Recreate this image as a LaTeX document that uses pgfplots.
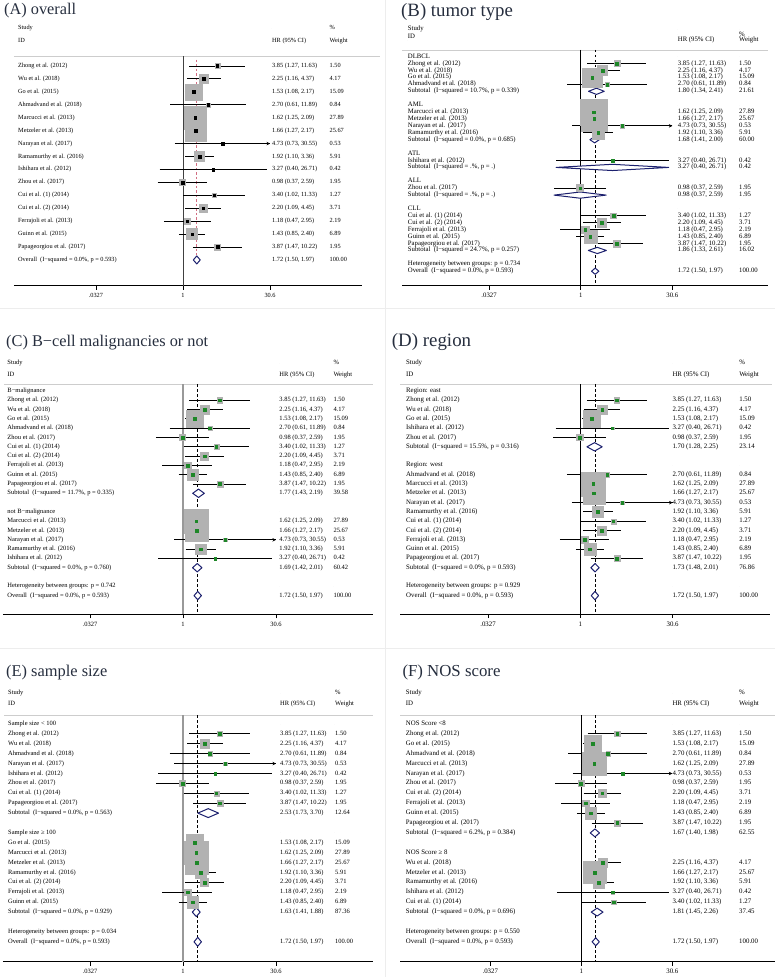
\documentclass[border=0pt]{standalone}
\usepackage{fontspec}
\setmainfont{Liberation Serif}
\usepackage{pgfplots}
\pgfplotsset{compat=1.18}
\usepackage{pgfplotstable}
\usetikzlibrary{arrows.meta}

\definecolor{boxg}{RGB}{178,178,178}
\definecolor{ptg}{RGB}{30,135,40}
\definecolor{navd}{RGB}{28,32,110}
\definecolor{pinkd}{RGB}{210,110,130}
\definecolor{titlec}{RGB}{38,46,62}
\definecolor{hdrl}{RGB}{205,205,205}

\newcommand\fA{\fontsize{6.3}{7}\selectfont}
\newcommand\fB{\fontsize{6.75}{7.5}\selectfont}
\newcommand\fC{\fontsize{6.5}{7.2}\selectfont}
\newcommand\fD{\fontsize{6.85}{7.6}\selectfont}

\pgfplotsset{
  fp/.style={scale only axis, enlargelimits=false, clip=false, anchor=south west,
    axis y line=none, axis x line*=bottom,
    x axis line style={-, line width=0.8pt, black},
    xtick={-1.4855,0,1.4857}, xticklabels={.0327,1,30.6},
    xtick align=outside, major tick length=4pt,
    tick style={black, line width=0.8pt}, ytick=\empty},
  lg/.style={x filter/.expression={log10(x)}},
  boxes/.style={only marks, mark=square*, scatter,
    scatter/use mapped color={draw=boxg, fill=boxg},
    visualization depends on={#1*sqrt(\thisrow{w}) \as \bsz},
    scatter/@pre marker code/.append style={/tikz/mark size=\bsz}},
  txt/.style={only marks, mark=*, mark size=0pt, mark options={draw=none, fill=none},
    point meta=explicit symbolic, nodes near coords,
    every node near coord/.append style={font=#1, text=black, inner sep=0pt,
      text height=4.4pt, text depth=1.4pt, anchor=west}},
  dia/.style={draw=navd, fill=white, line width=1pt, line join=round, lg},
  narr/.style={black, line width=1pt, -{Stealth[length=3.5pt, width=3.5pt]}, lg},
  hdr/.style={hdrl, line width=0.8pt},
}

\newcommand\forestrows[3]{%
  \addplot[boxes=#2] table[x expr={log10(\thisrow{hr})}, y=r]{#1};
  \addplot[black, line width=1pt, mark=none,
     quiver={u={log10(\thisrow{hi})-log10(\thisrow{lo})}, v={0}}]
     table[x expr={log10(\thisrow{lo})}, y=r]{#1};
  \addplot[only marks, mark=square*, mark size=1.35pt, color=#3]
     table[x expr={log10(\thisrow{hr})}, y=r]{#1};
}
\newcommand\textcols[5]{%
  \addplot[txt=#5] table[x expr={#2}, y=r, meta=n]{#1};
  \addplot[txt=#5] table[x expr={#3}, y=r, meta=h]{#1};
  \addplot[txt=#5] table[x expr={#4}, y=r, meta=wt]{#1};
}

% ---------------- Panel A ----------------
\pgfplotstableread{
r hr lo hi w
0 3.85 1.27 11.63 1.50
-1 2.25 1.16 4.37 4.17
-2 1.53 1.08 2.17 15.09
-3 2.70 0.61 11.89 0.84
-4 1.62 1.25 2.09 27.89
-5 1.66 1.27 2.17 25.67
-6 4.73 0.73 30.55 0.53
-7 1.92 1.10 3.36 5.91
-8 3.27 0.40 26.71 0.42
-9 0.98 0.37 2.59 1.95
-10 3.40 1.02 11.33 1.27
-11 2.20 1.09 4.45 3.71
-12 1.18 0.47 2.95 2.19
-13 1.43 0.85 2.40 6.89
-14 3.87 1.47 10.22 1.95
}\numA
\pgfplotstableread[col sep=semicolon]{
r;n;h;wt
2.939;Study;{};\%
1.933;ID;HR (95\% CI);Weight
0;Zhong et al. (2012);3.85 (1.27, 11.63);1.50
-1;Wu et al. (2018);2.25 (1.16, 4.37);4.17
-2;Go et al. (2015);1.53 (1.08, 2.17);15.09
-3;Ahmadvand et al. (2018);2.70 (0.61, 11.89);0.84
-4;Marcucci et al. (2013);1.62 (1.25, 2.09);27.89
-5;Metzeler et al. (2013);1.66 (1.27, 2.17);25.67
-6;Narayan et al. (2017);4.73 (0.73, 30.55);0.53
-7;Ramamurthy et al. (2016);1.92 (1.10, 3.36);5.91
-8;Ishihara et al. (2012);3.27 (0.40, 26.71);0.42
-9;Zhou et al. (2017);0.98 (0.37, 2.59);1.95
-10;Cui et al. (1) (2014);3.40 (1.02, 11.33);1.27
-11;Cui et al. (2) (2014);2.20 (1.09, 4.45);3.71
-12;Ferrajoli et al. (2013);1.18 (0.47, 2.95);2.19
-13;Guinn et al. (2015);1.43 (0.85, 2.40);6.89
-14;Papageorgiou et al. (2017);3.87 (1.47, 10.22);1.95
-15;Overall\ \ (I−squared = 0.0\%, p = 0.593);1.72 (1.50, 1.97);100.00
}\txtA

% ---------------- Panel B ----------------
\pgfplotstableread{
r hr lo hi w
-1 3.85 1.27 11.63 1.50
-2 2.25 1.16 4.37 4.17
-3 1.53 1.08 2.17 15.09
-4 2.70 0.61 11.89 0.84
-8 1.62 1.25 2.09 27.89
-9 1.66 1.27 2.17 25.67
-10 4.73 0.73 30.55 0.53
-11 1.92 1.10 3.36 5.91
-15 3.27 0.40 26.71 0.42
-19 0.98 0.37 2.59 1.95
-23 3.40 1.02 11.33 1.27
-24 2.20 1.09 4.45 3.71
-25 1.18 0.47 2.95 2.19
-26 1.43 0.85 2.40 6.89
-27 3.87 1.47 10.22 1.95
}\numB
\pgfplotstableread[col sep=semicolon]{
r;n;h;wt
3.95;Study;{};{}
2.85;ID;{};{}
3.2;{};{};\%
2.35;{};HR (95\% CI);Weight
0;DLBCL;{};{}
-1;Zhong et al. (2012);3.85 (1.27, 11.63);1.50
-2;Wu et al. (2018);2.25 (1.16, 4.37);4.17
-3;Go et al. (2015);1.53 (1.08, 2.17);15.09
-4;Ahmadvand et al. (2018);2.70 (0.61, 11.89);0.84
-5;Subtotal\ \ (I−squared = 10.7\%, p = 0.339);1.80 (1.34, 2.41);21.61
-7;AML;{};{}
-8;Marcucci et al. (2013);1.62 (1.25, 2.09);27.89
-9;Metzeler et al. (2013);1.66 (1.27, 2.17);25.67
-10;Narayan et al. (2017);4.73 (0.73, 30.55);0.53
-11;Ramamurthy et al. (2016);1.92 (1.10, 3.36);5.91
-12;Subtotal\ \ (I−squared = 0.0\%, p = 0.685);1.68 (1.41, 2.00);60.00
-14;ATL;{};{}
-15;Ishihara et al. (2012);3.27 (0.40, 26.71);0.42
-16;Subtotal\ \ (I−squared = .\%, p = .);3.27 (0.40, 26.71);0.42
-18;ALL;{};{}
-19;Zhou et al. (2017);0.98 (0.37, 2.59);1.95
-20;Subtotal\ \ (I−squared = .\%, p = .);0.98 (0.37, 2.59);1.95
-22;CLL;{};{}
-23;Cui et al. (1) (2014);3.40 (1.02, 11.33);1.27
-24;Cui et al. (2) (2014);2.20 (1.09, 4.45);3.71
-25;Ferrajoli et al. (2013);1.18 (0.47, 2.95);2.19
-26;Guinn et al. (2015);1.43 (0.85, 2.40);6.89
-27;Papageorgiou et al. (2017);3.87 (1.47, 10.22);1.95
-28;Subtotal\ \ (I−squared = 24.7\%, p = 0.257);1.86 (1.33, 2.61);16.02
-30;Heterogeneity between groups: p = 0.734;{};{}
-31;Overall\ \ (I−squared = 0.0\%, p = 0.593);1.72 (1.50, 1.97);100.00
}\txtB

% ---------------- Panel C ----------------
\pgfplotstableread{
r hr lo hi w
-1 3.85 1.27 11.63 1.50
-2 2.25 1.16 4.37 4.17
-3 1.53 1.08 2.17 15.09
-4 2.70 0.61 11.89 0.84
-5 0.98 0.37 2.59 1.95
-6 3.40 1.02 11.33 1.27
-7 2.20 1.09 4.45 3.71
-8 1.18 0.47 2.95 2.19
-9 1.43 0.85 2.40 6.89
-10 3.87 1.47 10.22 1.95
-14 1.62 1.25 2.09 27.89
-15 1.66 1.27 2.17 25.67
-16 4.73 0.73 30.55 0.53
-17 1.92 1.10 3.36 5.91
-18 3.27 0.40 26.71 0.42
}\numC
\pgfplotstableread[col sep=semicolon]{
r;n;h;wt
2.978;Study;{};\%
1.753;ID;HR (95\% CI);Weight
0;B−malignance;{};{}
-1;Zhong et al. (2012);3.85 (1.27, 11.63);1.50
-2;Wu et al. (2018);2.25 (1.16, 4.37);4.17
-3;Go et al. (2015);1.53 (1.08, 2.17);15.09
-4;Ahmadvand et al. (2018);2.70 (0.61, 11.89);0.84
-5;Zhou et al. (2017);0.98 (0.37, 2.59);1.95
-6;Cui et al. (1) (2014);3.40 (1.02, 11.33);1.27
-7;Cui et al. (2) (2014);2.20 (1.09, 4.45);3.71
-8;Ferrajoli et al. (2013);1.18 (0.47, 2.95);2.19
-9;Guinn et al. (2015);1.43 (0.85, 2.40);6.89
-10;Papageorgiou et al. (2017);3.87 (1.47, 10.22);1.95
-11;Subtotal\ \ (I−squared = 11.7\%, p = 0.335);1.77 (1.43, 2.19);39.58
-13;not B−malignance;{};{}
-14;Marcucci et al. (2013);1.62 (1.25, 2.09);27.89
-15;Metzeler et al. (2013);1.66 (1.27, 2.17);25.67
-16;Narayan et al. (2017);4.73 (0.73, 30.55);0.53
-17;Ramamurthy et al. (2016);1.92 (1.10, 3.36);5.91
-18;Ishihara et al. (2012);3.27 (0.40, 26.71);0.42
-19;Subtotal\ \ (I−squared = 0.0\%, p = 0.760);1.69 (1.42, 2.01);60.42
-21;Heterogeneity between groups: p = 0.742;{};{}
-22;Overall\ \ (I−squared = 0.0\%, p = 0.593);1.72 (1.50, 1.97);100.00
}\txtC

% ---------------- Panel D ----------------
\pgfplotstableread{
r hr lo hi w
-1 3.85 1.27 11.63 1.50
-2 2.25 1.16 4.37 4.17
-3 1.53 1.08 2.17 15.09
-4 3.27 0.40 26.71 0.42
-5 0.98 0.37 2.59 1.95
-9 2.70 0.61 11.89 0.84
-10 1.62 1.25 2.09 27.89
-11 1.66 1.27 2.17 25.67
-12 4.73 0.73 30.55 0.53
-13 1.92 1.10 3.36 5.91
-14 3.40 1.02 11.33 1.27
-15 2.20 1.09 4.45 3.71
-16 1.18 0.47 2.95 2.19
-17 1.43 0.85 2.40 6.89
-18 3.87 1.47 10.22 1.95
}\numD
\pgfplotstableread[col sep=semicolon]{
r;n;h;wt
2.978;Study;{};\%
1.753;ID;HR (95\% CI);Weight
0;Region: east;{};{}
-1;Zhong et al. (2012);3.85 (1.27, 11.63);1.50
-2;Wu et al. (2018);2.25 (1.16, 4.37);4.17
-3;Go et al. (2015);1.53 (1.08, 2.17);15.09
-4;Ishihara et al. (2012);3.27 (0.40, 26.71);0.42
-5;Zhou et al. (2017);0.98 (0.37, 2.59);1.95
-6;Subtotal\ \ (I−squared = 15.5\%, p = 0.316);1.70 (1.28, 2.25);23.14
-8;Region: west;{};{}
-9;Ahmadvand et al. (2018);2.70 (0.61, 11.89);0.84
-10;Marcucci et al. (2013);1.62 (1.25, 2.09);27.89
-11;Metzeler et al. (2013);1.66 (1.27, 2.17);25.67
-12;Narayan et al. (2017);4.73 (0.73, 30.55);0.53
-13;Ramamurthy et al. (2016);1.92 (1.10, 3.36);5.91
-14;Cui et al. (1) (2014);3.40 (1.02, 11.33);1.27
-15;Cui et al. (2) (2014);2.20 (1.09, 4.45);3.71
-16;Ferrajoli et al. (2013);1.18 (0.47, 2.95);2.19
-17;Guinn et al. (2015);1.43 (0.85, 2.40);6.89
-18;Papageorgiou et al. (2017);3.87 (1.47, 10.22);1.95
-19;Subtotal\ \ (I−squared = 0.0\%, p = 0.593);1.73 (1.48, 2.01);76.86
-21;Heterogeneity between groups: p = 0.929;{};{}
-22;Overall\ \ (I−squared = 0.0\%, p = 0.593);1.72 (1.50, 1.97);100.00
}\txtD

% ---------------- Panel E ----------------
\pgfplotstableread{
r hr lo hi w
-1 3.85 1.27 11.63 1.50
-2 2.25 1.16 4.37 4.17
-3 2.70 0.61 11.89 0.84
-4 4.73 0.73 30.55 0.53
-5 3.27 0.40 26.71 0.42
-6 0.98 0.37 2.59 1.95
-7 3.40 1.02 11.33 1.27
-8 3.87 1.47 10.22 1.95
-12 1.53 1.08 2.17 15.09
-13 1.62 1.25 2.09 27.89
-14 1.66 1.27 2.17 25.67
-15 1.92 1.10 3.36 5.91
-16 2.20 1.09 4.45 3.71
-17 1.18 0.47 2.95 2.19
-18 1.43 0.85 2.40 6.89
}\numE
\pgfplotstableread[col sep=semicolon]{
r;n;h;wt
3.101;Study;{};\%
1.990;ID;HR (95\% CI);Weight
0;Sample size < 100;{};{}
-1;Zhong et al. (2012);3.85 (1.27, 11.63);1.50
-2;Wu et al. (2018);2.25 (1.16, 4.37);4.17
-3;Ahmadvand et al. (2018);2.70 (0.61, 11.89);0.84
-4;Narayan et al. (2017);4.73 (0.73, 30.55);0.53
-5;Ishihara et al. (2012);3.27 (0.40, 26.71);0.42
-6;Zhou et al. (2017);0.98 (0.37, 2.59);1.95
-7;Cui et al. (1) (2014);3.40 (1.02, 11.33);1.27
-8;Papageorgiou et al. (2017);3.87 (1.47, 10.22);1.95
-9;Subtotal\ \ (I−squared = 0.0\%, p = 0.563);2.53 (1.73, 3.70);12.64
-11;Sample size ≥ 100;{};{}
-12;Go et al. (2015);1.53 (1.08, 2.17);15.09
-13;Marcucci et al. (2013);1.62 (1.25, 2.09);27.89
-14;Metzeler et al. (2013);1.66 (1.27, 2.17);25.67
-15;Ramamurthy et al. (2016);1.92 (1.10, 3.36);5.91
-16;Cui et al. (2) (2014);2.20 (1.09, 4.45);3.71
-17;Ferrajoli et al. (2013);1.18 (0.47, 2.95);2.19
-18;Guinn et al. (2015);1.43 (0.85, 2.40);6.89
-19;Subtotal\ \ (I−squared = 0.0\%, p = 0.929);1.63 (1.41, 1.88);87.36
-21;Heterogeneity between groups: p = 0.034;{};{}
-22;Overall\ \ (I−squared = 0.0\%, p = 0.593);1.72 (1.50, 1.97);100.00
}\txtE

% ---------------- Panel F ----------------
\pgfplotstableread{
r hr lo hi w
-1 3.85 1.27 11.63 1.50
-2 1.53 1.08 2.17 15.09
-3 2.70 0.61 11.89 0.84
-4 1.62 1.25 2.09 27.89
-5 4.73 0.73 30.55 0.53
-6 0.98 0.37 2.59 1.95
-7 2.20 1.09 4.45 3.71
-8 1.18 0.47 2.95 2.19
-9 1.43 0.85 2.40 6.89
-10 3.87 1.47 10.22 1.95
-14 2.25 1.16 4.37 4.17
-15 1.66 1.27 2.17 25.67
-16 1.92 1.10 3.36 5.91
-17 3.27 0.40 26.71 0.42
-18 3.40 1.02 11.33 1.27
}\numF
\pgfplotstableread[col sep=semicolon]{
r;n;h;wt
3.101;Study;{};\%
1.990;ID;HR (95\% CI);Weight
0;NOS Score <8;{};{}
-1;Zhong et al. (2012);3.85 (1.27, 11.63);1.50
-2;Go et al. (2015);1.53 (1.08, 2.17);15.09
-3;Ahmadvand et al. (2018);2.70 (0.61, 11.89);0.84
-4;Marcucci et al. (2013);1.62 (1.25, 2.09);27.89
-5;Narayan et al. (2017);4.73 (0.73, 30.55);0.53
-6;Zhou et al. (2017);0.98 (0.37, 2.59);1.95
-7;Cui et al. (2) (2014);2.20 (1.09, 4.45);3.71
-8;Ferrajoli et al. (2013);1.18 (0.47, 2.95);2.19
-9;Guinn et al. (2015);1.43 (0.85, 2.40);6.89
-10;Papageorgiou et al. (2017);3.87 (1.47, 10.22);1.95
-11;Subtotal\ \ (I−squared = 6.2\%, p = 0.384);1.67 (1.40, 1.98);62.55
-13;NOS Score ≥ 8;{};{}
-14;Wu et al. (2018);2.25 (1.16, 4.37);4.17
-15;Metzeler et al. (2013);1.66 (1.27, 2.17);25.67
-16;Ramamurthy et al. (2016);1.92 (1.10, 3.36);5.91
-17;Ishihara et al. (2012);3.27 (0.40, 26.71);0.42
-18;Cui et al. (1) (2014);3.40 (1.02, 11.33);1.27
-19;Subtotal\ \ (I−squared = 0.0\%, p = 0.696);1.81 (1.45, 2.26);37.45
-21;Heterogeneity between groups: p = 0.550;{};{}
-22;Overall\ \ (I−squared = 0.0\%, p = 0.593);1.72 (1.50, 1.97);100.00
}\txtF

\begin{document}
\begin{tikzpicture}
\path[use as bounding box] (0pt,0pt) rectangle (775pt,-977pt);
\draw[black!7, line width=1pt] (385.5pt,0pt) -- (385.5pt,-977pt);
\draw[black!7, line width=1pt] (0pt,-308pt) -- (775pt,-308pt);
\draw[black!7, line width=1pt] (0pt,-648pt) -- (775pt,-648pt);

% ===== A =====
\begin{axis}[fp, at={(14pt,-285.7pt)}, width=348pt, height=265.7pt,
  xmin=-2.884, xmax=3.055, ymin=-16.992, ymax=3.558,
  xticklabel style={font=\fA, text=black}]
  \addplot[hdr] coordinates {(-2.884,0.773) (3.362,0.773)};
  \addplot[black!75, line width=0.9pt] coordinates {(0,0.773) (0,-16.992)};
  \addplot[pinkd, line width=0.8pt, dash pattern=on 2.5pt off 2pt, lg] coordinates {(1.72,0.5) (1.72,-14.65)};
  \forestrows{\numA}{2.1}{black}
  \addplot[narr] coordinates {(0.73,-6) (30.55,-6)};
  \addplot[dia] coordinates {(1.50,-15) (1.72,-14.69) (1.97,-15) (1.72,-15.31)} -- cycle;
  \textcols{\txtA}{-2.816}{1.519}{2.50}{\fA}
\end{axis}

% ===== B =====
\begin{axis}[fp, at={(402pt,-285.7pt)}, width=366pt, height=265.7pt,
  xmin=-2.896, xmax=3.036, ymin=-33.092, ymax=5.303,
  xticklabel style={font=\fB, text=black}]
  \addplot[hdr] coordinates {(-2.896,0.968) (3.036,0.968)};
  \addplot[black, line width=0.8pt] coordinates {(0,0.968) (0,-33.092)};
  \addplot[black, line width=0.8pt, dash pattern=on 2.5pt off 2.5pt, lg] coordinates {(1.72,0.968) (1.72,-33.092)};
  \forestrows{\numB}{2.5}{ptg}
  \addplot[narr] coordinates {(0.73,-10) (30.55,-10)};
  \addplot[dia] coordinates {(1.34,-5) (1.80,-4.55) (2.41,-5) (1.80,-5.45)} -- cycle;
  \addplot[dia] coordinates {(1.41,-12) (1.68,-11.55) (2.00,-12) (1.68,-12.45)} -- cycle;
  \addplot[dia] coordinates {(0.40,-16) (3.27,-15.55) (26.71,-16) (3.27,-16.45)} -- cycle;
  \addplot[dia] coordinates {(0.37,-20) (0.98,-19.55) (2.59,-20) (0.98,-20.45)} -- cycle;
  \addplot[dia] coordinates {(1.33,-28) (1.86,-27.55) (2.61,-28) (1.86,-28.45)} -- cycle;
  \addplot[dia] coordinates {(1.50,-31) (1.72,-30.55) (1.97,-31) (1.72,-31.45)} -- cycle;
  \textcols{\txtB}{-2.804}{1.572}{2.566}{\fB}
\end{axis}

% ===== C =====
\begin{axis}[fp, at={(3pt,-614.3pt)}, width=370pt, height=259.3pt,
  xmin=-2.875, xmax=3.035, ymin=-24.011, ymax=3.871,
  xticklabel style={font=\fC, text=black}]
  \addplot[hdr] coordinates {(-2.859,0.753) (3.035,0.753)};
  \addplot[black!40, line width=2pt] coordinates {(0,0.753) (0,-24.011)};
  \addplot[black, line width=0.8pt, dash pattern=on 2.5pt off 2.5pt, lg] coordinates {(1.72,0.753) (1.72,-24.011)};
  \forestrows{\numC}{2.2}{ptg}
  \addplot[narr] coordinates {(0.73,-16) (30.55,-16)};
  \addplot[dia] coordinates {(1.43,-11) (1.77,-10.55) (2.19,-11) (1.77,-11.45)} -- cycle;
  \addplot[dia] coordinates {(1.42,-19) (1.69,-18.55) (2.01,-19) (1.69,-19.45)} -- cycle;
  \addplot[dia] coordinates {(1.50,-22) (1.72,-21.55) (1.97,-22) (1.72,-22.45)} -- cycle;
  \textcols{\txtC}{-2.807}{1.538}{2.401}{\fC}
\end{axis}

% ===== D =====
\begin{axis}[fp, at={(400pt,-614pt)}, width=370pt, height=259pt,
  xmin=-2.903, xmax=3.054, ymin=-23.978, ymax=3.871,
  xticklabel style={font=\fD, text=black}]
  \addplot[hdr] coordinates {(-2.903,0.753) (3.087,0.753)};
  \addplot[black, line width=0.8pt] coordinates {(0,0.753) (0,-23.978)};
  \addplot[black, line width=0.8pt, dash pattern=on 2.5pt off 2.5pt, lg] coordinates {(1.72,0.753) (1.72,-23.978)};
  \forestrows{\numD}{2.22}{ptg}
  \addplot[narr] coordinates {(0.73,-12) (30.55,-12)};
  \addplot[dia] coordinates {(1.28,-6) (1.70,-5.55) (2.25,-6) (1.70,-6.45)} -- cycle;
  \addplot[dia] coordinates {(1.48,-19) (1.73,-18.55) (2.01,-19) (1.73,-19.45)} -- cycle;
  \addplot[dia] coordinates {(1.50,-22) (1.72,-21.55) (1.97,-22) (1.72,-22.45)} -- cycle;
  \textcols{\txtD}{-2.807}{1.481}{2.556}{\fD}
\end{axis}

% ===== E =====
\begin{axis}[fp, at={(3pt,-961.7pt)}, width=370pt, height=276.7pt,
  xmin=-2.875, xmax=3.035, ymin=-24.01, ymax=3.939,
  xticklabel style={font=\fC, text=black}]
  \addplot[hdr] coordinates {(-2.859,0.909) (3.035,0.909)};
  \addplot[black!40, line width=2pt] coordinates {(0,0.909) (0,-24.01)};
  \addplot[black, line width=0.8pt, dash pattern=on 2.5pt off 2.5pt, lg] coordinates {(1.72,0.909) (1.72,-24.01)};
  \forestrows{\numE}{2.2}{ptg}
  \addplot[narr] coordinates {(0.73,-4) (30.55,-4)};
  \addplot[dia] coordinates {(1.73,-9) (2.53,-8.55) (3.70,-9) (2.53,-9.45)} -- cycle;
  \addplot[dia] coordinates {(1.41,-19) (1.63,-18.55) (1.88,-19) (1.63,-19.45)} -- cycle;
  \addplot[dia] coordinates {(1.50,-22) (1.72,-21.55) (1.97,-22) (1.72,-22.45)} -- cycle;
  \textcols{\txtE}{-2.796}{1.550}{2.428}{\fC}
\end{axis}

% ===== F =====
\begin{axis}[fp, at={(400pt,-961.7pt)}, width=375pt, height=276.7pt,
  xmin=-2.958, xmax=3.160, ymin=-24.01, ymax=3.939,
  xticklabel style={font=\fD, text=black}]
  \addplot[hdr] coordinates {(-2.958,0.909) (3.160,0.909)};
  \addplot[black, line width=0.8pt] coordinates {(0,0.909) (0,-24.01)};
  \addplot[black, line width=0.8pt, dash pattern=on 2.5pt off 2.5pt, lg] coordinates {(1.72,0.909) (1.72,-24.01)};
  \forestrows{\numF}{2.2}{ptg}
  \addplot[narr] coordinates {(0.73,-5) (30.55,-5)};
  \addplot[dia] coordinates {(1.40,-11) (1.67,-10.6) (1.98,-11) (1.67,-11.4)} -- cycle;
  \addplot[dia] coordinates {(1.45,-19) (1.81,-18.6) (2.26,-19) (1.81,-19.4)} -- cycle;
  \addplot[dia] coordinates {(1.50,-22) (1.72,-21.6) (1.97,-22) (1.72,-22.4)} -- cycle;
  \textcols{\txtF}{-2.865}{1.485}{2.573}{\fD}
\end{axis}

% titles
\node[anchor=base west, inner sep=0pt, text=titlec, font=\fontsize{16.3}{18}\selectfont] at (4pt,-14.5pt) {(A) overall};
\node[anchor=base west, inner sep=0pt, text=titlec, font=\fontsize{18.8}{21}\selectfont] at (401pt,-16.7pt) {(B) tumor type};
\node[anchor=base west, inner sep=0pt, text=titlec, font=\fontsize{16.3}{18}\selectfont] at (6pt,-346.7pt) {(C) B−cell malignancies or not};
\node[anchor=base west, inner sep=0pt, text=titlec, font=\fontsize{18.9}{21}\selectfont] at (391.7pt,-346.7pt) {(D) region};
\node[anchor=base west, inner sep=0pt, text=titlec, font=\fontsize{16.4}{18}\selectfont] at (6pt,-676.7pt) {(E) sample size};
\node[anchor=base west, inner sep=0pt, text=titlec, font=\fontsize{16.8}{19}\selectfont] at (402.3pt,-676.7pt) {(F) NOS score};
\end{tikzpicture}
\end{document}
